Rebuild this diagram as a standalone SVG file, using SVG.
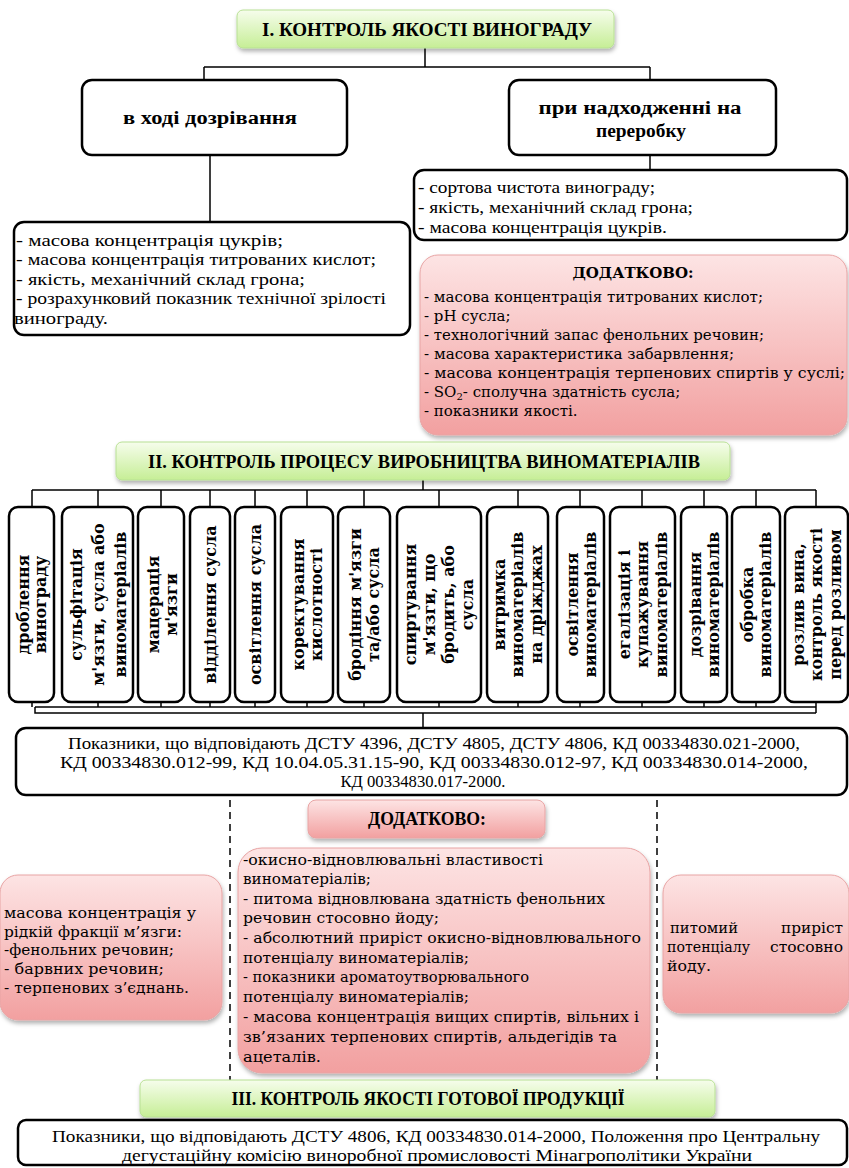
<svg xmlns="http://www.w3.org/2000/svg" width="849" height="1168" viewBox="0 0 849 1168">
<defs>
<linearGradient id="gGreen" x1="0" y1="0" x2="0" y2="1"><stop offset="0" stop-color="#f6fdec"/><stop offset="1" stop-color="#c6ee96"/></linearGradient>
<linearGradient id="gPink" x1="0" y1="0" x2="0" y2="1"><stop offset="0" stop-color="#fde4e4"/><stop offset="1" stop-color="#f2a0a0"/></linearGradient>
<filter id="sh" x="-10%" y="-10%" width="120%" height="130%"><feDropShadow dx="1" dy="3" stdDeviation="2" flood-color="#000" flood-opacity="0.3"/></filter>
<style>
.green{fill:url(#gGreen);stroke:#b8e094;stroke-width:1;filter:url(#sh)}
.pink{fill:url(#gPink);stroke:#e8a4a4;stroke-width:1;filter:url(#sh)}
.blk{fill:#fff;stroke:#000;stroke-width:2.5}
.title{font-family:'Liberation Serif','Times New Roman',serif;font-weight:bold;font-size:19px;fill:#000}
.cond{font-family:'Liberation Serif','Times New Roman',serif;font-size:17px;fill:#000}
.condb{font-family:'Liberation Serif','Times New Roman',serif;font-weight:bold;font-size:18px;fill:#000}
.wide{font-family:'DejaVu Serif',serif;font-size:15px;fill:#000}
.wideb{font-family:'DejaVu Serif',serif;font-weight:bold;font-size:15px;fill:#000}
.vert{font-family:'DejaVu Serif',serif;font-weight:bold;font-size:16px;fill:#000}
.ln{fill:none;stroke:#000;stroke-width:1.5}
.dash{fill:none;stroke:#000;stroke-width:1.5;stroke-dasharray:7,5}
</style>
</defs>
<rect width="849" height="1168" fill="#fff"/>

<g id="connectors">
<path class="ln" d="M425,48 V67 M204,67 H650 M204,67 V80 M650,67 V80"/>
<path class="ln" d="M210,155 V222 M650,155 V170"/>
<path class="ln" d="M423,480 V490 M32,490 H816"/>
<path class="ln" d="M32,490 V507 M98,490 V507 M161,490 V507 M210,490 V507 M255,490 V507 M307,490 V507 M364,490 V507 M439,490 V507 M518,490 V507 M580,490 V507 M642,490 V507 M704,490 V507 M756,490 V507 M816,490 V507"/>
<path class="ln" d="M32,702 V707 M98,702 V707 M161,702 V707 M210,702 V707 M255,702 V707 M307,702 V707 M364,702 V707 M439,702 V707 M518,702 V707 M580,702 V707 M642,702 V707 M704,702 V707 M756,702 V707 M816,702 V713 M35,707 H816 M35,707 V713 H816 M423,713 V728"/>
<path class="dash" d="M230,800 V1080 M657,800 V1080"/>
</g>

<g id="title1">
<rect class="green" x="237" y="10" width="377" height="38" rx="6"/>
<text class="title" x="427" y="36" text-anchor="middle" textLength="330" lengthAdjust="spacingAndGlyphs">І. КОНТРОЛЬ ЯКОСТІ ВИНОГРАДУ</text>
</g>

<g id="ripening">
<rect class="blk" x="82" y="80" width="265" height="75" rx="10"/>
<text class="condb" x="210" y="124" text-anchor="middle" textLength="174" lengthAdjust="spacingAndGlyphs">в ході дозрівання</text>
</g>

<g id="arrival">
<rect class="blk" x="509" y="80" width="267" height="75" rx="10"/>
<text class="condb" x="640" y="114" text-anchor="middle" textLength="203" lengthAdjust="spacingAndGlyphs">при надходженні на</text>
<text class="condb" x="641" y="137" text-anchor="middle" textLength="90" lengthAdjust="spacingAndGlyphs">переробку</text>
</g>

<g id="list-arrival">
<rect class="blk" x="414" y="170" width="433" height="70" rx="10"/>
<text class="cond" x="418" y="193" textLength="237" lengthAdjust="spacingAndGlyphs">- сортова чистота винограду;</text>
<text class="cond" x="418" y="213" textLength="275" lengthAdjust="spacingAndGlyphs">- якість, механічний склад грона;</text>
<text class="cond" x="418" y="233" textLength="249" lengthAdjust="spacingAndGlyphs">- масова концентрація цукрів.</text>
</g>

<g id="list-ripening">
<rect class="blk" x="14" y="222" width="396" height="113" rx="10"/>
<text class="cond" x="16" y="246" textLength="267" lengthAdjust="spacingAndGlyphs">- масова концентрація цукрів;</text>
<text class="cond" x="16" y="265" textLength="360" lengthAdjust="spacingAndGlyphs">- масова концентрація титрованих  кислот;</text>
<text class="cond" x="16" y="285" textLength="289" lengthAdjust="spacingAndGlyphs">- якість, механічний склад грона;</text>
<text class="cond" x="16" y="304" textLength="370" lengthAdjust="spacingAndGlyphs">- розрахунковий показник технічної зрілості</text>
<text class="cond" x="14" y="324" textLength="94" lengthAdjust="spacingAndGlyphs">винограду.</text>
</g>

<g id="extra1">
<rect class="pink" x="420" y="255" width="427" height="180" rx="18"/>
<text class="wideb" x="633" y="278" text-anchor="middle">ДОДАТКОВО:</text>
<text class="wide" x="424" y="302" textLength="339" lengthAdjust="spacingAndGlyphs">- масова концентрація титрованих кислот;</text>
<text class="wide" x="424" y="321">- pH сусла;</text>
<text class="wide" x="424" y="340" textLength="340" lengthAdjust="spacingAndGlyphs">- технологічний запас фенольних речовин;</text>
<text class="wide" x="424" y="359" textLength="310" lengthAdjust="spacingAndGlyphs">- масова характеристика забарвлення;</text>
<text class="wide" x="424" y="378" textLength="421" lengthAdjust="spacingAndGlyphs">- масова концентрація терпенових спиртів у суслі;</text>
<text class="wide" x="424" y="397">- SO<tspan font-size="10" dy="3">2</tspan><tspan dy="-3">- сполучна здатність сусла;</tspan></text>
<text class="wide" x="424" y="416">- показники якості.</text>
</g>

<g id="title2">
<rect class="green" x="116" y="442" width="614" height="38" rx="6"/>
<text class="title" x="424" y="468" text-anchor="middle" textLength="552" lengthAdjust="spacingAndGlyphs">ІІ. КОНТРОЛЬ ПРОЦЕСУ ВИРОБНИЦТВА ВИНОМАТЕРІАЛІВ</text>
</g>

<g id="s1"><rect class="blk" x="9" y="507" width="45" height="195" rx="9"/>
<text class="vert" transform="translate(31.5,604.5) rotate(-90)" text-anchor="middle"><tspan x="0" y="-2.5">дроблення</tspan><tspan x="0" y="14.5">винограду</tspan></text></g>
<g id="s2"><rect class="blk" x="62" y="507" width="71" height="195" rx="9"/>
<text class="vert" transform="translate(97.5,604.5) rotate(-90)" text-anchor="middle"><tspan x="0" y="-16">сульфітація</tspan><tspan x="0" y="6">м'язги, сусла або</tspan><tspan x="0" y="28">виноматеріалів</tspan></text></g>
<g id="s3"><rect class="blk" x="138" y="507" width="46" height="195" rx="9"/>
<text class="vert" transform="translate(161,604.5) rotate(-90)" text-anchor="middle"><tspan x="0" y="-2.5">мацерація</tspan><tspan x="0" y="15.5">м'язги</tspan></text></g>
<g id="s4"><rect class="blk" x="190" y="507" width="40" height="195" rx="9"/>
<text class="vert" transform="translate(210,604.5) rotate(-90)" text-anchor="middle"><tspan x="0" y="6">відділення сусла</tspan></text></g>
<g id="s5"><rect class="blk" x="235" y="507" width="40" height="195" rx="9"/>
<text class="vert" transform="translate(255,604.5) rotate(-90)" text-anchor="middle"><tspan x="0" y="6">освітлення сусла</tspan></text></g>
<g id="s6"><rect class="blk" x="281" y="507" width="52" height="195" rx="9"/>
<text class="vert" transform="translate(307,604.5) rotate(-90)" text-anchor="middle"><tspan x="0" y="-3">коректування</tspan><tspan x="0" y="15">кислотності</tspan></text></g>
<g id="s7"><rect class="blk" x="338" y="507" width="52" height="195" rx="9"/>
<text class="vert" transform="translate(364,604.5) rotate(-90)" text-anchor="middle"><tspan x="0" y="-3">бродіння м'язги</tspan><tspan x="0" y="15">та/або сусла</tspan></text></g>
<g id="s8"><rect class="blk" x="397" y="507" width="84" height="195" rx="9"/>
<text class="vert" transform="translate(439,604.5) rotate(-90)" text-anchor="middle"><tspan x="0" y="-23">спиртування</tspan><tspan x="0" y="-4">м'язги, що</tspan><tspan x="0" y="15">бродить, або</tspan><tspan x="0" y="34">сусла</tspan></text></g>
<g id="s9"><rect class="blk" x="487" y="507" width="61" height="195" rx="9"/>
<text class="vert" transform="translate(517.5,604.5) rotate(-90)" text-anchor="middle"><tspan x="0" y="-13">витримка</tspan><tspan x="0" y="5.5">виноматеріалів</tspan><tspan x="0" y="24">на дріжджах</tspan></text></g>
<g id="s10"><rect class="blk" x="557" y="507" width="47" height="195" rx="9"/>
<text class="vert" transform="translate(580.5,604.5) rotate(-90)" text-anchor="middle"><tspan x="0" y="-3">освітлення</tspan><tspan x="0" y="15">виноматеріалів</tspan></text></g>
<g id="s11"><rect class="blk" x="610" y="507" width="65" height="195" rx="9"/>
<text class="vert" transform="translate(642.5,604.5) rotate(-90)" text-anchor="middle"><tspan x="0" y="-13">егалізація і</tspan><tspan x="0" y="5.5">купажування</tspan><tspan x="0" y="24">виноматеріалів</tspan></text></g>
<g id="s12"><rect class="blk" x="681" y="507" width="46" height="195" rx="9"/>
<text class="vert" transform="translate(704,604.5) rotate(-90)" text-anchor="middle"><tspan x="0" y="-3">дозрівання</tspan><tspan x="0" y="15">виноматеріалів</tspan></text></g>
<g id="s13"><rect class="blk" x="732" y="507" width="48" height="195" rx="9"/>
<text class="vert" transform="translate(756,604.5) rotate(-90)" text-anchor="middle"><tspan x="0" y="-3">обробка</tspan><tspan x="0" y="15">виноматеріалів</tspan></text></g>
<g id="s14"><rect class="blk" x="785" y="507" width="63" height="195" rx="9"/>
<text class="vert" transform="translate(816.5,604.5) rotate(-90)" text-anchor="middle"><tspan x="0" y="-13">розлив вина,</tspan><tspan x="0" y="5.5">контроль якості</tspan><tspan x="0" y="24">перед розливом</tspan></text></g>

<g id="standards">
<rect class="blk" x="16" y="728" width="831" height="67" rx="10"/>
<text class="cond" x="434" y="749" text-anchor="middle" textLength="732" lengthAdjust="spacingAndGlyphs">Показники, що відповідають ДСТУ 4396, ДСТУ 4805, ДСТУ 4806, КД 00334830.021-2000,</text>
<text class="cond" x="434" y="768" text-anchor="middle" textLength="748" lengthAdjust="spacingAndGlyphs">КД 00334830.012-99, КД 10.04.05.31.15-90, КД 00334830.012-97, КД 00334830.014-2000,</text>
<text class="cond" x="423" y="787" text-anchor="middle" textLength="165" lengthAdjust="spacingAndGlyphs">КД 00334830.017-2000.</text>
</g>

<g id="extra2">
<rect class="pink" x="308" y="800" width="237" height="38" rx="8"/>
<text class="condb" x="427" y="825" text-anchor="middle" textLength="118" lengthAdjust="spacingAndGlyphs">ДОДАТКОВО:</text>
</g>

<g id="extra-left">
<rect class="pink" x="0" y="875" width="222" height="145" rx="18"/>
<text class="wide" x="4" y="918" textLength="192" lengthAdjust="spacingAndGlyphs">масова концентрація у</text>
<text class="wide" x="4" y="937" textLength="178" lengthAdjust="spacingAndGlyphs">рідкій фракції м’язги:</text>
<text class="wide" x="4" y="955" textLength="170" lengthAdjust="spacingAndGlyphs">-фенольних речовин;</text>
<text class="wide" x="4" y="974" textLength="160" lengthAdjust="spacingAndGlyphs">- барвних речовин;</text>
<text class="wide" x="4" y="993" textLength="185" lengthAdjust="spacingAndGlyphs">- терпенових з’єднань.</text>
</g>

<g id="extra-mid">
<rect class="pink" x="238" y="848" width="412" height="225" rx="24"/>
<text class="wide" x="243" y="865" textLength="300" lengthAdjust="spacingAndGlyphs">-окисно-відновлювальні властивості</text>
<text class="wide" x="243" y="884" textLength="128" lengthAdjust="spacingAndGlyphs">виноматеріалів;</text>
<text class="wide" x="243" y="904" textLength="362" lengthAdjust="spacingAndGlyphs">- питома відновлювана здатність фенольних</text>
<text class="wide" x="243" y="923" textLength="196" lengthAdjust="spacingAndGlyphs">речовин стосовно йоду;</text>
<text class="wide" x="243" y="943" textLength="398" lengthAdjust="spacingAndGlyphs">- абсолютний приріст окисно-відновлювального</text>
<text class="wide" x="243" y="963" textLength="226" lengthAdjust="spacingAndGlyphs">потенціалу виноматеріалів;</text>
<text class="wide" x="243" y="982" textLength="286" lengthAdjust="spacingAndGlyphs">- показники ароматоутворювального</text>
<text class="wide" x="243" y="1002" textLength="226" lengthAdjust="spacingAndGlyphs">потенціалу виноматеріалів;</text>
<text class="wide" x="243" y="1022" textLength="396" lengthAdjust="spacingAndGlyphs">- масова концентрація вищих спиртів, вільних і</text>
<text class="wide" x="243" y="1042" textLength="374" lengthAdjust="spacingAndGlyphs">зв’язаних терпенових спиртів, альдегідів та</text>
<text class="wide" x="243" y="1062" textLength="78" lengthAdjust="spacingAndGlyphs">ацеталів.</text>
</g>

<g id="extra-right">
<rect class="pink" x="663" y="875" width="186" height="138" rx="18"/>
<text class="wide" x="670" y="933" textLength="68" lengthAdjust="spacingAndGlyphs">питомий</text>
<text class="wide" x="843" y="933" text-anchor="end" textLength="62" lengthAdjust="spacingAndGlyphs">приріст</text>
<text class="wide" x="667" y="952" textLength="83" lengthAdjust="spacingAndGlyphs">потенціалу</text>
<text class="wide" x="843" y="952" text-anchor="end" textLength="73" lengthAdjust="spacingAndGlyphs">стосовно</text>
<text class="wide" x="667" y="971" textLength="44" lengthAdjust="spacingAndGlyphs">йоду.</text>
</g>

<g id="title3">
<rect class="green" x="140" y="1080" width="575" height="37" rx="6"/>
<text class="title" x="428" y="1105" text-anchor="middle" textLength="393" lengthAdjust="spacingAndGlyphs">ІІІ. КОНТРОЛЬ ЯКОСТІ ГОТОВОЇ ПРОДУКЦІЇ</text>
</g>

<g id="final">
<rect class="blk" x="18" y="1120" width="829" height="45" rx="8"/>
<text class="cond" x="436" y="1142" text-anchor="middle" textLength="768" lengthAdjust="spacingAndGlyphs">Показники, що відповідають ДСТУ 4806, КД 00334830.014-2000, Положення про Центральну</text>
<text class="cond" x="437" y="1161" text-anchor="middle" textLength="630" lengthAdjust="spacingAndGlyphs">дегустаційну комісію виноробної промисловості Мінагрополітики України</text>
</g>
</svg>
